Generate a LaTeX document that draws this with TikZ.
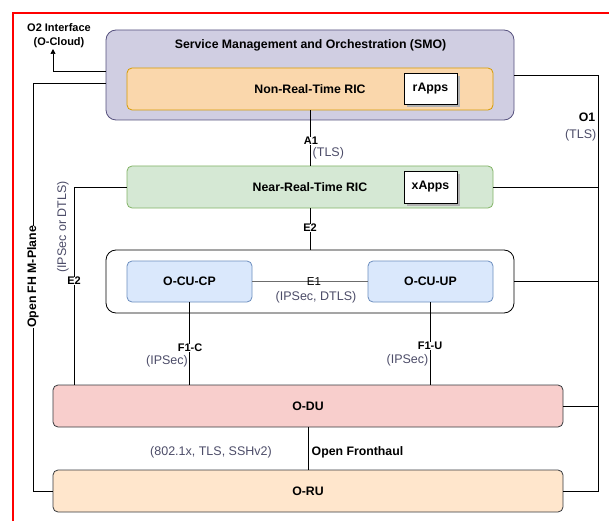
\documentclass[tikz,border=0pt]{standalone}
\usepackage{fontspec}
\setmainfont{Liberation Sans}
\usetikzlibrary{arrows.meta}
\definecolor{smofill}{HTML}{D0CEE2}
\definecolor{smoline}{HTML}{56517E}
\definecolor{nrtfill}{HTML}{FAD7AC}
\definecolor{nrtline}{HTML}{D79B00}
\definecolor{rtfill}{HTML}{D5E8D4}
\definecolor{rtline}{HTML}{82B366}
\definecolor{cufill}{HTML}{DAE8FC}
\definecolor{culine}{HTML}{6C8EBF}
\definecolor{dufill}{HTML}{F8CECC}
\definecolor{rufill}{HTML}{FFE6CC}
\definecolor{boxline}{HTML}{36393D}
\definecolor{seclbl}{HTML}{4C4C68}
\begin{document}
\begin{tikzpicture}[x=1pt,y=-1pt,
  font=\fontsize{12}{14}\selectfont,
  blk/.style={draw=boxline,rounded corners=5pt,line width=0.8pt,font=\fontsize{12.3}{14}\selectfont\bfseries},
  app/.style={draw=black,fill=white,line width=0.8pt,font=\fontsize{12.3}{14}\selectfont\bfseries},
  conn/.style={draw=black,line width=0.7pt},
  ilbl/.style={fill=white,inner sep=0.5pt,font=\fontsize{11}{13}\selectfont\bfseries},
  slbl/.style={text=seclbl,inner sep=0.5pt,font=\fontsize{12.5}{14}\selectfont},
  blbl/.style={inner sep=0.5pt,font=\fontsize{12.3}{14}\selectfont\bfseries}]
\useasboundingbox (0,0) rectangle (609,521);
% red frame
\draw[red,line width=1.6pt] (13,521) -- (13,13) -- (612,13);
% boxes
\path[blk,draw=smoline,fill=smofill,rounded corners=10pt] (106,30) rectangle (514,120);
\node[blbl] (smot) at (310.5,45) {Service Management and Orchestration (SMO)};
\node[blk,draw=nrtline,fill=nrtfill,minimum width=366pt,minimum height=42pt] (nrt) at (310,89) {};
\node[blbl] at (310,89) {Non-Real-Time RIC};
\fill[gray!60] (407,76) rectangle (460,107);
\node[app,minimum width=53pt,minimum height=31pt] (rapps) at (430.5,88.5) {rApps};
\node[blk,draw=rtline,fill=rtfill,minimum width=366pt,minimum height=42pt] (rt) at (310,187) {};
\node[blbl] at (310,187) {Near-Real-Time RIC};
\fill[gray!60] (407,174) rectangle (460,206);
\node[app,minimum width=53pt,minimum height=32pt] (xapps) at (430.5,187) {xApps};
\path[draw=black,line width=0.8pt,fill=white,rounded corners=10pt] (106,250) rectangle (514,313);
\coordinate (cuR) at (514,281);
\coordinate (cuT) at (310,250);
\node[blk,draw=culine,fill=cufill,minimum width=125pt,minimum height=41pt] (cucp) at (189.5,281.5) {O-CU-CP};
\node[blk,draw=culine,fill=cufill,minimum width=125pt,minimum height=41pt] (cuup) at (430.5,281.5) {O-CU-UP};
\node[blk,fill=dufill,minimum width=510pt,minimum height=42pt] (du) at (308,406) {O-DU};
\node[blk,fill=rufill,minimum width=510pt,minimum height=42pt] (ru) at (308,491) {O-RU};
% A1
\draw[conn] (nrt.south -| 310,0) -- (rt.north -| 310,0);
\node[ilbl] (a1) at (311,141) {A1};
\node[slbl,anchor=west] at (312,153) {(TLS)};
% E2 centre
\draw[conn] (rt.south -| 310,0) -- (cuT);
\node[ilbl] (e2c) at (310,228) {E2};
% E1
\draw[draw=gray!85!black,line width=1pt] (cucp.east) -- (cuup.west);
\node[ilbl,fill=none,font=\fontsize{11.5}{13}\selectfont] (e1) at (314,282) {E1};
\node[slbl] at (316,297) {(IPSec, DTLS)};
% F1-C / F1-U
\draw[conn] (cucp.south) -- (cucp.south |- du.north);
\node[ilbl] (f1c) at (190,348) {F1-C};
\node[slbl,anchor=east] at (188.5,361) {(IPSec)};
\draw[conn] (cuup.south) -- (cuup.south |- du.north);
\node[ilbl] (f1u) at (430,346) {F1-U};
\node[slbl,anchor=east] at (429,360) {(IPSec)};
% Open Fronthaul
\draw[conn] (du.south -| 308,0) -- (ru.north -| 308,0);
\node[slbl] at (211,452) {(802.1x, TLS, SSHv2)};
\node[blbl,anchor=west] at (311,452) {Open Fronthaul};
% left E2
\coordinate (e2a) at (74,187);
\draw[conn] (rt.west) -- (e2a) -- (74,385);
\node[ilbl] (e2l) at (74,281) {E2};
\node[slbl,rotate=90] at (63,227) {(IPSec or DTLS)};
% Open FH M-Plane
\coordinate (mpa) at (33,83);
\coordinate (mpb) at (33,491);
\draw[conn] (106,83) -- (mpa) -- (mpb) -- (ru.west);
\node[ilbl,rotate=90,font=\fontsize{12.3}{14}\selectfont\bfseries] (mp) at (33,277) {Open FH M-Plane};
% O2
\coordinate (o2a) at (53,71);
\node[blbl,align=center,font=\fontsize{11}{14}\selectfont\bfseries] (o2) at (59,36) {O2 Interface\\(O-Cloud)};
\draw[conn,-{Triangle[length=5pt,width=5pt]}] (106,71) -- (o2a) -- (53,49);
% O1
\coordinate (o1t) at (598,75);
\coordinate (o1b) at (598,491);
\draw[conn] (514,75) -- (o1t) -- (o1b) -- (ru.east);
\draw[conn] (rt.east) -- (rt.east -| o1t);
\draw[conn] (cuR) -- (cuR -| o1t);
\draw[conn] (du.east) -- (du.east -| o1t);
\node[blbl,anchor=east] (o1) at (596,117) {O1};
\node[slbl,anchor=east] at (597,135) {(TLS)};
\end{tikzpicture}
\end{document}
